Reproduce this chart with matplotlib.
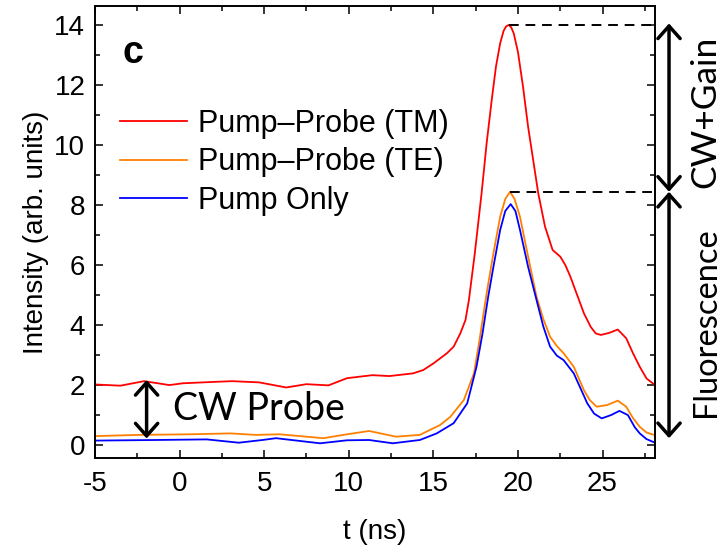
import matplotlib
matplotlib.use('Agg')
import matplotlib.pyplot as plt
from matplotlib.ticker import MultipleLocator

plt.rcParams['font.family'] = 'Liberation Sans'
plt.rcParams['axes.unicode_minus'] = False

# Pump-Probe (TM)
t_tm = [-5, -3.5, -2.1, -0.6, 0.2, 2.2, 3.1, 4.7, 6.3, 7.5, 8.8, 9.9, 11.4, 12.4,
        13.8, 14.4, 15.0, 15.8, 16.2, 16.6, 16.9, 17.1, 17.45, 17.85, 18.15, 18.45,
        18.7, 18.95, 19.15, 19.3, 19.45, 19.6, 19.75, 20.0, 20.3, 20.6, 20.9, 21.2,
        21.6, 22.05, 22.5, 22.8, 23.1, 23.5, 23.9, 24.3, 24.6, 24.9, 25.4, 25.9,
        26.4, 26.8, 27.2, 27.6, 28.1]
i_tm = [2.02, 1.98, 2.13, 2.0, 2.06, 2.11, 2.13, 2.09, 1.92, 2.03, 1.99, 2.23, 2.33, 2.30,
        2.39, 2.50, 2.72, 3.06, 3.28, 3.73, 4.17, 4.83, 6.39, 8.39, 10.06, 11.5,
        12.61, 13.39, 13.8, 13.95, 14.0, 13.92, 13.72, 13.1, 11.94, 10.61, 9.5, 8.39,
        7.28, 6.5, 6.28, 6.0, 5.61, 5.0, 4.39, 3.94, 3.72, 3.67, 3.74, 3.85,
        3.56, 3.06, 2.61, 2.22, 2.0]

# Pump-Probe (TE)
t_te = [-5, -2.4, 0.6, 3.0, 4.5, 5.9, 8.5, 9.9, 11.2, 12.8, 14.2, 15.4, 16.0, 16.8,
        17.4, 17.7, 18.15, 18.55, 18.95, 19.25, 19.53, 19.8, 20.12, 20.6, 21.1, 21.5,
        21.9, 22.3, 22.7, 23.3, 23.9, 24.25, 24.65, 25.25, 25.9, 26.4, 26.8, 27.2,
        27.6, 28.1]
i_te = [0.30, 0.34, 0.36, 0.39, 0.34, 0.36, 0.23, 0.36, 0.47, 0.28, 0.34, 0.67, 0.94, 1.50,
        2.39, 3.4, 5.06, 6.39, 7.61, 8.2, 8.44, 8.2, 7.61, 6.28, 4.94, 4.2,
        3.61, 3.3, 3.06, 2.61, 1.83, 1.5, 1.28, 1.33, 1.48, 1.28, 0.9, 0.61,
        0.42, 0.33]

# Pump Only
t_po = [-5, -1.4, 1.6, 3.5, 4.9, 5.7, 8.3, 9.9, 11.2, 12.6, 14.2, 15.2, 16.2, 17.0,
        17.55, 17.9, 18.24, 18.55, 18.95, 19.25, 19.57, 19.85, 20.12, 20.6, 21.1, 21.5,
        21.9, 22.3, 22.7, 23.3, 24.1, 24.5, 24.95, 25.5, 26.0, 26.5, 26.9, 27.2,
        27.6, 28.1]
i_po = [0.15, 0.17, 0.19, 0.08, 0.17, 0.23, 0.06, 0.16, 0.17, 0.06, 0.17, 0.39, 0.73, 1.39,
        2.61, 3.7, 4.94, 5.94, 7.17, 7.8, 8.03, 7.8, 7.17, 5.94, 4.83, 3.95,
        3.28, 2.98, 2.83, 2.39, 1.39, 1.05, 0.89, 1.0, 1.14, 1.0, 0.6, 0.39,
        0.2, 0.08]

labels = ['Pump\u2013Probe (TM)', 'Pump\u2013Probe (TE)', 'Pump Only']
colors = ['#FF0000', '#FF8000', '#0000FF']

fig = plt.figure(figsize=(7.28, 5.47), dpi=100)
ax = fig.add_axes([0.1305, 0.1627, 0.7692, 0.8263])

ax.plot(t_tm, i_tm, color=colors[0], lw=1.3, label=labels[0])
ax.plot(t_te, i_te, color=colors[1], lw=1.3, label=labels[1])
ax.plot(t_po, i_po, color=colors[2], lw=1.3, label=labels[2])

ax.set_xlim(-5, 28.1)
ax.set_ylim(-0.43, 14.63)
ax.xaxis.set_major_locator(MultipleLocator(5))
ax.xaxis.set_minor_locator(MultipleLocator(2.5))
ax.yaxis.set_major_locator(MultipleLocator(2))
ax.yaxis.set_minor_locator(MultipleLocator(1))
ax.tick_params(which='both', direction='in', top=True, right=True, width=1.1)
ax.tick_params(which='major', length=6)
ax.tick_params(which='minor', length=3.6)
ax.tick_params(axis='x', labelsize=20, pad=9)
ax.tick_params(axis='y', labelsize=20, pad=7)
for s in ax.spines.values():
    s.set_linewidth(1.4)

ax.set_xlabel('t (ns)', fontsize=20, labelpad=16)
ax.set_ylabel('Intensity (arb. units)', fontsize=20, labelpad=4)

# peak reference lines
peak_tm = max(i_tm)
peak_te = max(i_te)
ax.plot([t_tm[i_tm.index(peak_tm)], 28.1], [peak_tm, peak_tm], color='k', lw=1.4,
        dashes=(5, 3.5))
ax.plot([t_te[i_te.index(peak_te)], 28.1], [peak_te, peak_te], color='k', lw=1.4,
        dashes=(5, 3.5))

arrow = dict(arrowstyle='<->,head_length=0.45,head_width=0.4', lw=2.5, color='k',
             mutation_scale=20, shrinkA=0, shrinkB=0)
ax.annotate('', xy=(28.93, peak_tm + 0.05), xytext=(28.93, peak_te),
            arrowprops=arrow, annotation_clip=False)
ax.annotate('', xy=(28.93, peak_te), xytext=(28.93, 0.23),
            arrowprops=arrow, annotation_clip=False)
ax.annotate('', xy=(-1.95, 2.17), xytext=(-1.95, 0.22),
            arrowprops=arrow, annotation_clip=False)

ax.text(31.1, 11.1, 'CW+Gain', rotation=90, ha='center', va='center',
        fontsize=25.5, family='Lato', clip_on=False)
ax.text(31.1, 4.1, 'Fluorescence', rotation=90, ha='center', va='center',
        fontsize=23.5, family='Lato', clip_on=False)
ax.text(-0.38, 0.83, 'CW Probe', ha='left', va='baseline', fontsize=27, family='Lato')
ax.text(-3.39, 12.72, 'c', ha='left', va='baseline', fontsize=27, fontweight='bold')

ax.legend(loc='upper left', bbox_to_anchor=(0.045, 0.772), frameon=False, fontsize=22,
          handlelength=2.2, handletextpad=0.35, labelspacing=0.27, borderpad=0,
          borderaxespad=0)

fig.savefig('out.png', dpi=100)
